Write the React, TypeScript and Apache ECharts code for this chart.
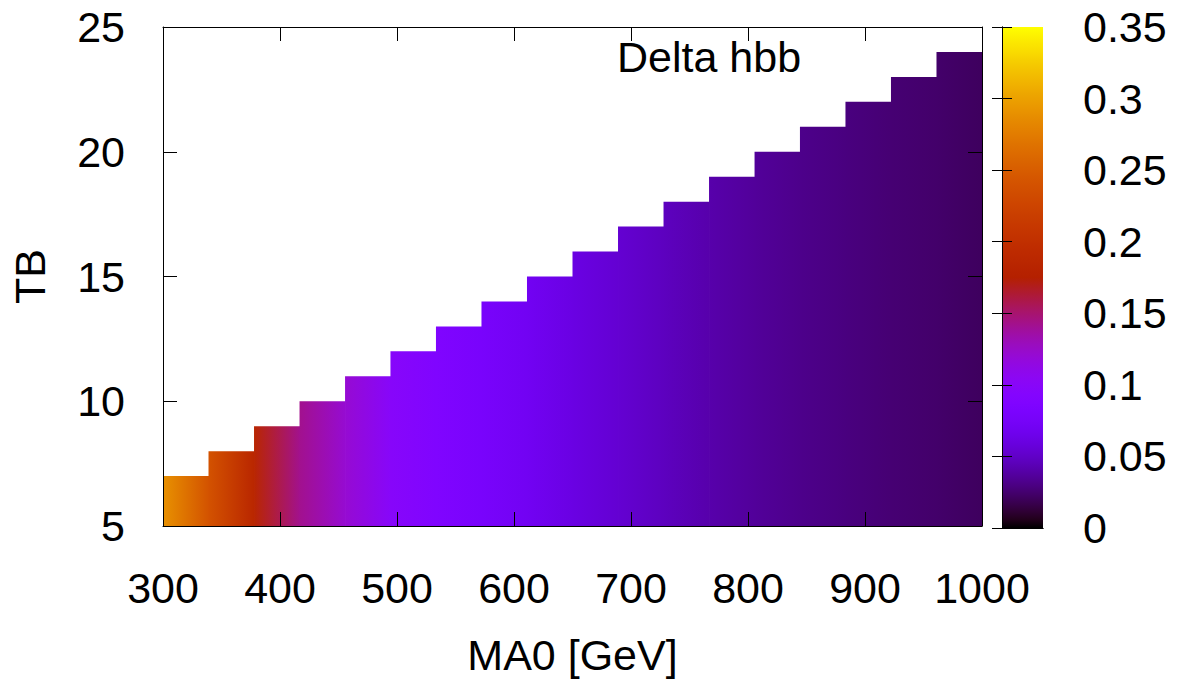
import React, { useEffect, useRef } from "react";
import * as echarts from "echarts";

// MA0 bin edges [GeV] of the pm3d grid columns
const ma0Edges = [300, 338.9, 377.8, 416.7, 455.6, 494.4, 533.3, 572.2, 611.1, 650, 688.9, 727.8, 766.7, 805.6, 844.4, 883.3, 922.2, 961.1, 1000];
// Highest TB reached in each column (filled from TB = 5 up to this value)
const tbTop = [7, 8, 9, 10, 11, 12, 13, 14, 15, 16, 17, 18, 19, 20, 21, 22, 23, 24];
// Delta hbb at each MA0 edge (colour varies along MA0)
const deltaAtEdge = [0.29, 0.24, 0.185, 0.142, 0.121, 0.098, 0.088, 0.079, 0.07, 0.061, 0.054, 0.047, 0.041, 0.036, 0.032, 0.029, 0.026, 0.024, 0.021];

const TB_MIN = 5;
const CB_MIN = 0;
const CB_MAX = 0.35;
const FONT = "'Liberation Sans', Arial, sans-serif";
const FS = 43;

// gnuplot "traditional" palette rgbformulae 7,5,15
function palette(v: number): string {
  let g = (v - CB_MIN) / (CB_MAX - CB_MIN);
  g = Math.max(0, Math.min(1, g));
  const r = Math.sqrt(g);
  const gr = g * g * g;
  const b = Math.max(0, Math.sin(2 * Math.PI * g));
  return `rgb(${Math.round(r * 255)},${Math.round(gr * 255)},${Math.round(b * 255)})`;
}

export default function App() {
  const ref = useRef<HTMLDivElement>(null);
  useEffect(() => {
    if (!ref.current) return;
    const chart = echarts.init(ref.current, null, { renderer: "svg" });

    const columns = tbTop.map((top, i) => [
      ma0Edges[i],
      ma0Edges[i + 1],
      TB_MIN,
      top,
      deltaAtEdge[i],
      deltaAtEdge[i + 1],
    ]);

    const cbStops: { offset: number; color: string }[] = [];
    const N = 60;
    for (let k = 0; k <= N; k++) {
      cbStops.push({ offset: k / N, color: palette(CB_MIN + ((CB_MAX - CB_MIN) * k) / N) });
    }

    const axisLine = { show: true, lineStyle: { color: "#000", width: 1 } };
    const lbl = { color: "#000", fontSize: FS, fontFamily: FONT };

    const option: any = {
      animation: false,
      backgroundColor: "#fff",
      grid: [
        { left: 160, right: 195, top: 27, bottom: 153 },
        { left: 1002, top: 27, width: 41, height: 501 },
      ],
      xAxis: [
        {
          gridIndex: 0, type: "value", min: 300, max: 1000, interval: 100, position: "bottom", z: 10,
          axisLine, axisTick: { show: true, inside: true, length: 14, lineStyle: { color: "#000" } },
          axisLabel: { ...lbl, margin: 40, formatter: (v: number) => String(v) }, splitLine: { show: false },
          name: "MA0 [GeV]", nameLocation: "middle", nameGap: 107,
          nameTextStyle: { color: "#000", fontSize: FS, fontFamily: FONT },
        },
        {
          gridIndex: 0, type: "value", min: 300, max: 1000, interval: 100, position: "top", z: 10,
          axisLine, axisTick: { show: true, inside: true, length: 14, lineStyle: { color: "#000" } },
          axisLabel: { show: false }, splitLine: { show: false },
        },
        {
          gridIndex: 1, type: "value", min: 0, max: 1, position: "bottom", z: 10,
          axisLine, axisTick: { show: false }, axisLabel: { show: false }, splitLine: { show: false },
        },
        {
          gridIndex: 1, type: "value", min: 0, max: 1, position: "top", z: 10,
          axisLine, axisTick: { show: false }, axisLabel: { show: false }, splitLine: { show: false },
        },
      ],
      yAxis: [
        {
          gridIndex: 0, type: "value", min: 5, max: 25, interval: 5, position: "left", z: 10,
          axisLine, axisTick: { show: true, inside: true, length: 14, lineStyle: { color: "#000" } },
          axisLabel: { ...lbl, margin: 38 }, splitLine: { show: false },
          name: "TB", nameLocation: "middle", nameGap: 112,
          nameTextStyle: { color: "#000", fontSize: FS, fontFamily: FONT },
        },
        {
          gridIndex: 0, type: "value", min: 5, max: 25, interval: 5, position: "right", z: 10,
          axisLine, axisTick: { show: true, inside: true, length: 14, lineStyle: { color: "#000" } },
          axisLabel: { show: false }, splitLine: { show: false },
        },
        {
          gridIndex: 1, type: "value", min: CB_MIN, max: CB_MAX, interval: 0.05, position: "right", z: 10,
          axisLine, axisTick: { show: true, inside: true, length: 10, lineStyle: { color: "#000" } },
          axisLabel: { ...lbl, margin: 40, formatter: (v: number) => String(+v.toFixed(2)) },
          splitLine: { show: false },
        },
        {
          gridIndex: 1, type: "value", min: CB_MIN, max: CB_MAX, interval: 0.05, position: "left", z: 10,
          axisLine, axisTick: { show: true, inside: true, length: 10, lineStyle: { color: "#000" } },
          axisLabel: { show: false }, splitLine: { show: false },
        },
      ],
      series: [
        {
          type: "custom",
          name: "Delta hbb",
          xAxisIndex: 0,
          yAxisIndex: 0,
          data: columns,
          encode: { x: [0, 1], y: [2, 3] },
          renderItem: (params: any, api: any) => {
            const x0 = api.value(0), x1 = api.value(1), y0 = api.value(2), y1 = api.value(3);
            const v0 = api.value(4), v1 = api.value(5);
            const p0 = api.coord([x0, y0]);
            const p1 = api.coord([x1, y1]);
            return {
              type: "rect",
              shape: { x: p0[0], y: p1[1], width: p1[0] - p0[0] + 0.6, height: p0[1] - p1[1] },
              style: {
                fill: new echarts.graphic.LinearGradient(0, 0, 1, 0, [
                  { offset: 0, color: palette(v0) },
                  { offset: 1, color: palette(v1) },
                ]),
                stroke: null,
              },
            };
          },
        },
        {
          type: "custom",
          name: "colorbar",
          xAxisIndex: 2,
          yAxisIndex: 2,
          data: [[0, 1, CB_MIN, CB_MAX]],
          encode: { x: [0, 1], y: [2, 3] },
          renderItem: (params: any, api: any) => {
            const p0 = api.coord([api.value(0), api.value(2)]);
            const p1 = api.coord([api.value(1), api.value(3)]);
            return {
              type: "rect",
              shape: { x: p0[0], y: p1[1], width: p1[0] - p0[0], height: p0[1] - p1[1] },
              style: { fill: new echarts.graphic.LinearGradient(0, 1, 0, 0, cbStops), stroke: null },
            };
          },
        },
      ],
      graphic: [
        {
          type: "text",
          x: 617,
          y: 57,
          style: {
            text: "Delta hbb",
            fontSize: FS,
            fontFamily: FONT,
            fill: "#000",
            align: "left",
            verticalAlign: "middle",
          },
        },
      ],
    };
    chart.setOption(option);
    return () => chart.dispose();
  }, []);
  return (
    <div
      ref={ref}
      style={{ position: "fixed", left: 0, top: 0, width: 1177, height: 681, background: "#fff" }}
    />
  );
}
